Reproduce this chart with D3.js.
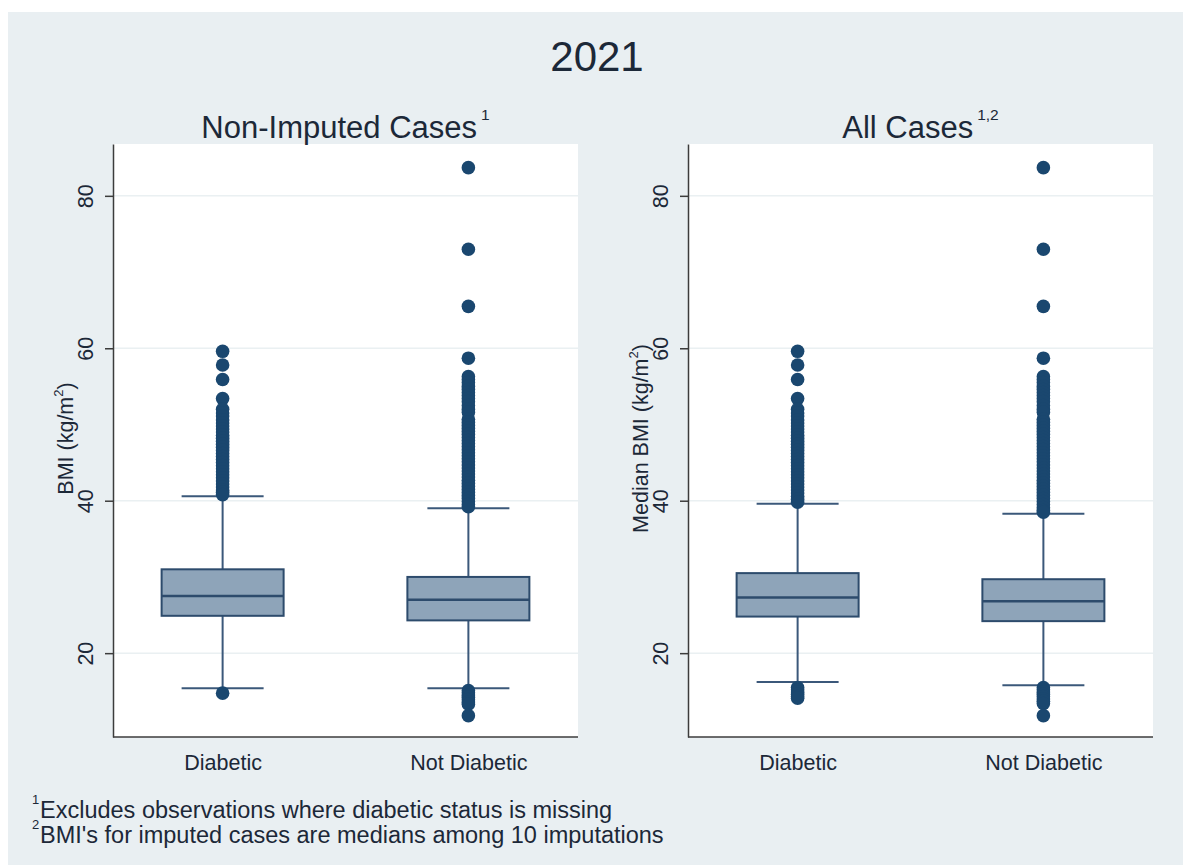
<!DOCTYPE html>
<html>
<head>
<meta charset="utf-8">
<script src="https://cdn.jsdelivr.net/npm/d3@7"></script>
<style>
  html, body { margin: 0; padding: 0; background: #ffffff; }
  svg { display: block; }
  text { font-family: "Liberation Sans", Arial, "DejaVu Sans", sans-serif; fill: #1c2838; }
</style>
</head>
<body>
<svg id="chart" width="1183" height="865"></svg>
<script>
// ---- data -------------------------------------------------------------
const mainTitle = "2021";
const categories = ["Diabetic", "Not Diabetic"];
const panelTitles = ["Non-Imputed Cases", "All Cases"];
const panelNotes = ["1", "1,2"];
const axisTitles = ["BMI (kg/m", "Median BMI (kg/m"];
const yTicks = [20, 40, 60, 80];
const yDomain = [9, 86.8];

// box summaries: [lower whisker, q1, median, q3, upper whisker]
const nonImputedStats = [
  [15.4, 24.9, 27.5, 31.0, 40.6],
  [15.4, 24.3, 27.0, 30.0, 39.0]
];
const allCasesStats = [
  [16.2, 24.8, 27.3, 30.5, 39.6],
  [15.8, 24.2, 26.8, 29.7, 38.3]
];

// values beyond the whiskers
const nonImputedDiabeticOut = [
  59.6, 57.8, 55.9, 53.4, 52.0, 51.5, 51.1, 50.6, 50.2, 49.8, 49.4, 49.0,
  48.6, 48.2, 47.8, 47.4, 47.0, 46.6, 46.2, 45.8, 45.4, 45.0, 44.6, 44.2,
  43.8, 43.4, 43.0, 42.6, 42.2, 41.8, 41.4, 41.1, 40.8,
  14.75
];
const nonImputedNotDiabeticOut = [
  83.7, 73.0, 65.5, 58.7, 56.3, 55.9, 55.5, 55.0, 54.6, 54.2, 53.8, 53.4,
  53.0, 52.5, 52.0, 51.6, 50.7, 50.3, 49.9, 49.5, 49.1, 48.7, 48.3, 47.9,
  47.5, 47.1, 46.7, 46.3, 45.9, 45.5, 45.1, 44.7, 44.3, 43.9, 43.5, 43.1,
  42.7, 42.3, 41.9, 41.5, 41.1, 40.7, 40.3, 39.9, 39.5, 39.2,
  15.1, 14.8, 14.5, 14.2, 13.9, 13.6, 13.3, 11.8
];
const allCasesDiabeticOut = [
  59.6, 57.8, 55.9, 53.4, 52.0, 51.5, 51.1, 50.6, 50.2, 49.8, 49.4, 49.0,
  48.6, 48.2, 47.8, 47.4, 47.0, 46.6, 46.2, 45.8, 45.4, 45.0, 44.6, 44.2,
  43.8, 43.4, 43.0, 42.6, 42.2, 41.8, 41.4, 41.0, 40.6, 40.2, 39.8,
  15.5, 15.2, 14.9, 14.6, 14.3, 14.1
];
const allCasesNotDiabeticOut = [
  83.7, 73.0, 65.5, 58.7, 56.3, 55.9, 55.5, 55.0, 54.6, 54.2, 53.8, 53.4,
  53.0, 52.5, 52.0, 51.6, 50.7, 50.3, 49.9, 49.5, 49.1, 48.7, 48.3, 47.9,
  47.5, 47.1, 46.7, 46.3, 45.9, 45.5, 45.1, 44.7, 44.3, 43.9, 43.5, 43.1,
  42.7, 42.3, 41.9, 41.5, 41.1, 40.7, 40.3, 39.9, 39.5, 39.1, 38.7, 38.5,
  15.5, 15.2, 14.9, 14.6, 14.3, 14.0, 13.7, 13.4, 11.8
];

const footnotes = [
  { mark: "1", text: "Excludes observations where diabetic status is missing" },
  { mark: "2", text: "BMI's for imputed cases are medians among 10 imputations" }
];

// ---- styling / layout -------------------------------------------------
const C = {
  page: "#e9eff2",
  plot: "#ffffff",
  grid: "#eaf0f2",
  axis: "#3c3c3c",
  boxFill: "#8ea4b9",
  boxStroke: "#2d4b6c",
  whisker: "#3b587a",
  marker: "#1a476f"
};

const svg = d3.select("#chart");

svg.append("rect")
  .attr("x", 8).attr("y", 12)
  .attr("width", 1183 - 8).attr("height", 865 - 12)
  .attr("fill", C.page);

svg.append("text")
  .attr("x", 597).attr("y", 71)
  .attr("text-anchor", "middle")
  .attr("font-size", 42)
  .attr("fill", "#1d2a42")
  .text(mainTitle);

const plotTop = 144, plotBottom = 737, plotW = 465;
const y = d3.scaleLinear().domain(yDomain).range([plotBottom, plotTop]);

const panels = [
  { left: 113, stats: nonImputedStats, outliers: [nonImputedDiabeticOut, nonImputedNotDiabeticOut] },
  { left: 688, stats: allCasesStats, outliers: [allCasesDiabeticOut, allCasesNotDiabeticOut] }
];

panels.forEach((p, i) => {
  const g = svg.append("g").attr("transform", `translate(${p.left},0)`);
  const x = d3.scalePoint().domain(categories).range([0, plotW]).padding(0.446);
  const boxW = 122, capW = 82;

  g.append("rect")
    .attr("x", 0).attr("y", plotTop)
    .attr("width", plotW).attr("height", plotBottom - plotTop)
    .attr("fill", C.plot);

  // horizontal grid
  g.selectAll("line.grid").data(yTicks).join("line")
    .attr("class", "grid")
    .attr("x1", 0).attr("x2", plotW)
    .attr("y1", d => y(d)).attr("y2", d => y(d))
    .attr("stroke", C.grid).attr("stroke-width", 1.5);

  // panel title with note marker
  const t = g.append("text")
    .attr("x", plotW / 2).attr("y", 138)
    .attr("text-anchor", "middle")
    .attr("font-size", 31)
    .attr("fill", "#1d2a42");
  t.append("tspan").text(panelTitles[i]);
  t.append("tspan").attr("font-size", 15.5).attr("dy", -18).attr("dx", 4).text(panelNotes[i]);

  // boxes
  const boxes = g.selectAll("g.box").data(categories).join("g")
    .attr("class", "box")
    .attr("transform", d => `translate(${x(d)},0)`);

  boxes.append("line")
    .attr("y1", (d, k) => y(p.stats[k][3])).attr("y2", (d, k) => y(p.stats[k][4]))
    .attr("stroke", C.whisker).attr("stroke-width", 2);
  boxes.append("line")
    .attr("y1", (d, k) => y(p.stats[k][1])).attr("y2", (d, k) => y(p.stats[k][0]))
    .attr("stroke", C.whisker).attr("stroke-width", 2);
  boxes.append("line")
    .attr("x1", -capW / 2).attr("x2", capW / 2)
    .attr("y1", (d, k) => y(p.stats[k][4])).attr("y2", (d, k) => y(p.stats[k][4]))
    .attr("stroke", C.whisker).attr("stroke-width", 2);
  boxes.append("line")
    .attr("x1", -capW / 2).attr("x2", capW / 2)
    .attr("y1", (d, k) => y(p.stats[k][0])).attr("y2", (d, k) => y(p.stats[k][0]))
    .attr("stroke", C.whisker).attr("stroke-width", 2);
  boxes.append("rect")
    .attr("x", -boxW / 2).attr("width", boxW)
    .attr("y", (d, k) => y(p.stats[k][3]))
    .attr("height", (d, k) => y(p.stats[k][1]) - y(p.stats[k][3]))
    .attr("fill", C.boxFill).attr("stroke", C.boxStroke).attr("stroke-width", 2);
  boxes.append("line")
    .attr("x1", -boxW / 2).attr("x2", boxW / 2)
    .attr("y1", (d, k) => y(p.stats[k][2])).attr("y2", (d, k) => y(p.stats[k][2]))
    .attr("stroke", C.boxStroke).attr("stroke-width", 2.5);

  boxes.selectAll("circle")
    .data((d, k) => p.outliers[k]).join("circle")
    .attr("cx", 0).attr("cy", v => y(v)).attr("r", 6.8)
    .attr("fill", C.marker);

  // y axis
  const ya = g.append("g")
    .call(d3.axisLeft(y).tickValues(yTicks).tickSize(8).tickSizeOuter(0).tickFormat(d3.format("d")));
  ya.select(".domain").attr("stroke", C.axis).attr("stroke-width", 1.5);
  ya.selectAll(".tick line").attr("stroke", C.axis).attr("stroke-width", 1.5);
  ya.selectAll(".tick text")
    .attr("transform", "rotate(-90)")
    .attr("x", 0).attr("y", -20).attr("dy", 0)
    .attr("text-anchor", "middle")
    .attr("font-size", 21.5)
    .attr("font-family", null)
    .attr("fill", "#1c2838");

  // x axis
  const xa = g.append("g")
    .attr("transform", `translate(0,${plotBottom})`)
    .call(d3.axisBottom(x).tickSize(0).tickSizeOuter(0).tickPadding(18));
  xa.select(".domain").attr("stroke", C.axis).attr("stroke-width", 1.5)
    .attr("d", `M0,0H${plotW}`);
  xa.selectAll(".tick text")
    .attr("font-size", 21.5)
    .attr("font-family", null)
    .attr("fill", "#1c2838");

  // y axis title
  const at = g.append("text")
    .attr("transform", `translate(-40,${(plotTop + plotBottom) / 2 - 2}) rotate(-90)`)
    .attr("text-anchor", "middle")
    .attr("font-size", 21.5);
  at.append("tspan").text(axisTitles[i]);
  at.append("tspan").attr("font-size", 13).attr("dy", -10).text("2");
  at.append("tspan").attr("dy", 10).text(")");
});

// footnotes
footnotes.forEach((f, i) => {
  const base = 818 + i * 25;
  svg.append("text").attr("x", 32).attr("y", base - 14).attr("font-size", 13).text(f.mark);
  svg.append("text").attr("x", 40).attr("y", base).attr("font-size", 23.5).text(f.text);
});
</script>
</body>
</html>
